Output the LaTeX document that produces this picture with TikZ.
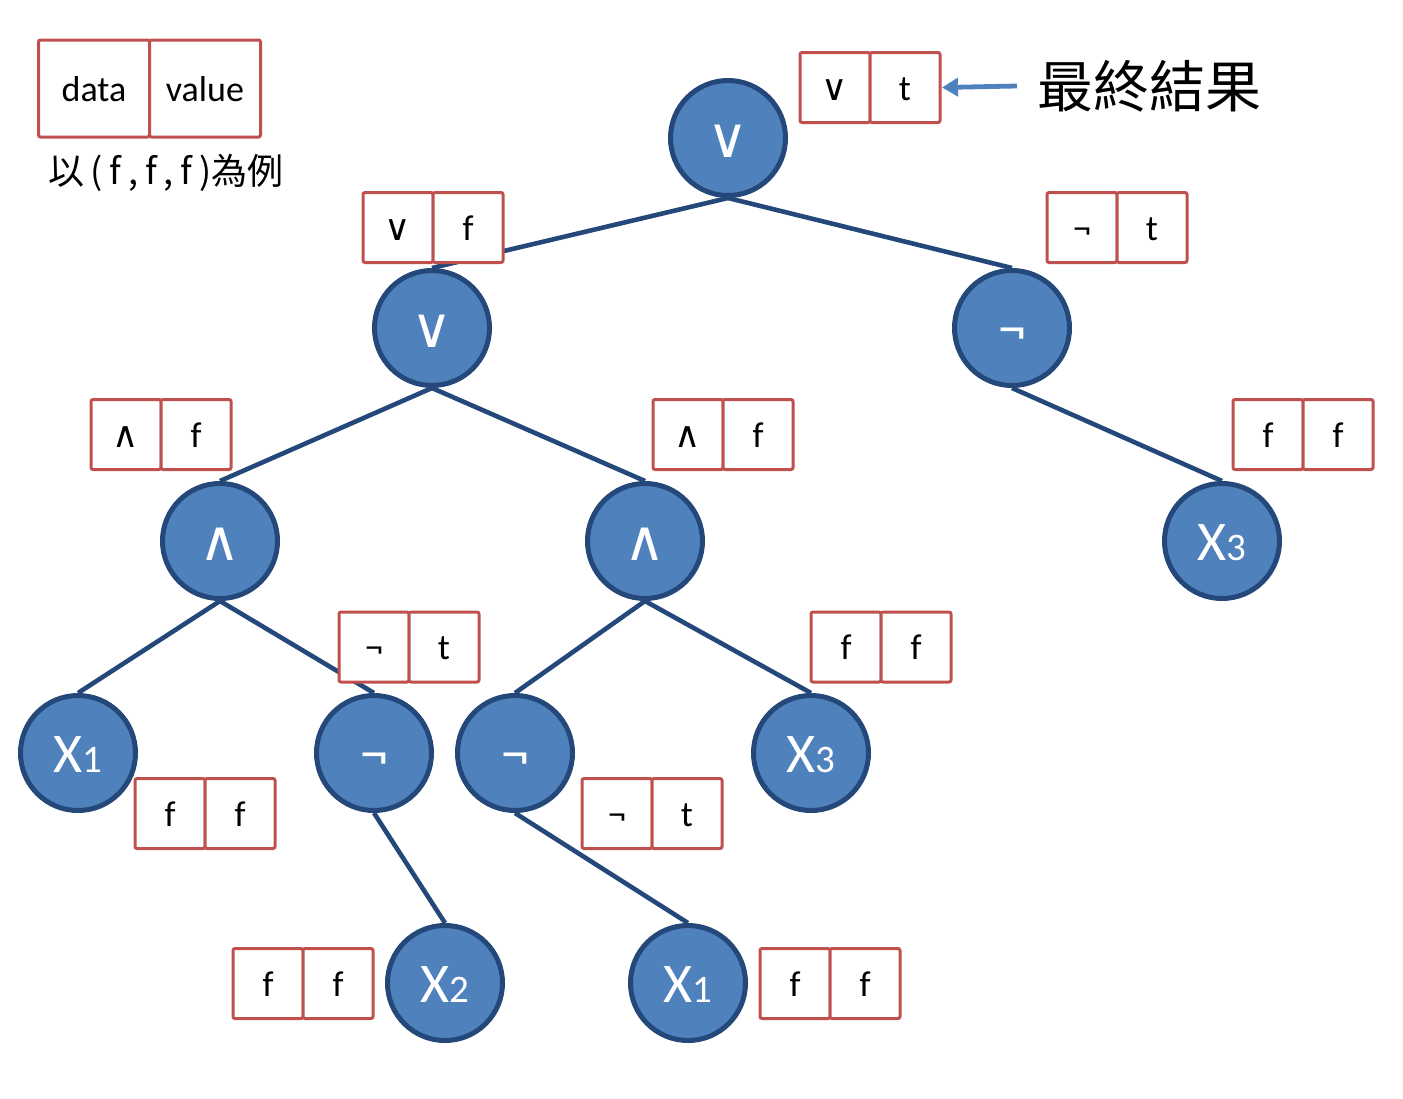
\documentclass[tikz,border=0pt]{standalone}
\usepackage{fontspec}
\setmainfont{Carlito}
\newfontfamily\symf{DejaVu Sans}
\newfontfamily\cjk{Noto Sans CJK TC}
\usepackage{xcolor}
\usetikzlibrary{arrows.meta,positioning,backgrounds}
\definecolor{opfill}{RGB}{79,129,189}
\definecolor{opline}{RGB}{37,72,122}
\definecolor{cellred}{RGB}{192,80,77}
\newcommand{\opor}{{\symf ∨}}
\newcommand{\opand}{{\symf ∧}}
\newcommand{\xvar}[1]{X{\fontsize{19.5}{20}\selectfont #1}}

\begin{document}
\begin{tikzpicture}[
  x=0.5pt, y=-0.5pt,
  op/.style={circle, draw=opline, line width=2.5pt, fill=opfill, minimum size=57.5pt,
    inner sep=0pt, text=white, font=\fontsize{28}{30}\selectfont,
    text height=19pt, text depth=0pt},
  cell/.style={draw=cellred, line width=1.5pt, fill=white, rounded corners=1pt,
    minimum width=35pt, minimum height=35pt, inner sep=0pt, outer sep=0pt,
    font=\fontsize{18}{20}\selectfont, text height=12.5pt, text depth=0pt},
  link/.style={draw=opline, line width=2.3pt},
  flow/.style={-{Triangle[length=8pt,width=9pt]}, draw=opfill, fill=opfill, line width=2.4pt}
]
\useasboundingbox (0,0) rectangle (1403,1098);
% legend
\node[cell, minimum width=55.5pt, minimum height=48.5pt] (keyd) at (94,88.5) {data};
\node[cell, minimum width=55.5pt, minimum height=48.5pt, right=0pt of keyd] (keyv) {value};
\node[anchor=west, inner sep=0pt, font=\cjk\fontsize{18}{20}\selectfont] (note) at (48,173)
  {以\hspace{3pt}(\hspace{3.5pt}f\hspace{3.5pt},\hspace{3.5pt}f\hspace{3.5pt},\hspace{3.5pt}f\hspace{3.5pt})為例};
% tree
\node[op] (root) at (728,138) {\opor};
\node[op] (a) at (432,328) {\opor};
\node[op] (b) at (1012,328) {¬};
\node[op] (aa) at (220,541) {\opand};
\node[op] (ab) at (645,541) {\opand};
\node[op] (ba) at (1222,541) {\xvar{3}};
\node[op] (aaa) at (78,753) {\xvar{1}};
\node[op] (aab) at (374,753) {¬};
\node[op] (aba) at (515,753) {¬};
\node[op] (abb) at (811,753) {\xvar{3}};
\node[op] (aaba) at (445,983) {\xvar{2}};
\node[op] (abaa) at (688,983) {\xvar{1}};
% data / value pairs
\node[cell] (rootd) at (835,87.5) {\opor}; \node[cell, right=0pt of rootd] (rootv) {t};
\node[cell] (ad) at (398,227.5) {\opor}; \node[cell, right=0pt of ad] (av) {f};
\node[cell] (bd) at (1082,227.5) {¬}; \node[cell, right=0pt of bd] (bv) {t};
\node[cell] (aad) at (126,434.5) {\opand}; \node[cell, right=0pt of aad] (aav) {f};
\node[cell] (abd) at (688,434.5) {\opand}; \node[cell, right=0pt of abd] (abv) {f};
\node[cell] (bad) at (1268,434.5) {f}; \node[cell, right=0pt of bad] (bav) {f};
\node[cell] (aabd) at (374,647) {¬}; \node[cell, right=0pt of aabd] (aabv) {t};
\node[cell] (abbd) at (846,647) {f}; \node[cell, right=0pt of abbd] (abbv) {f};
\node[cell] (aaad) at (170,813.5) {f}; \node[cell, right=0pt of aaad] (aaav) {f};
\node[cell] (abad) at (617,813.5) {¬}; \node[cell, right=0pt of abad] (abav) {t};
\node[cell] (aabad) at (268,983.5) {f}; \node[cell, right=0pt of aabad] (aabav) {f};
\node[cell] (abaad) at (795,983.5) {f}; \node[cell, right=0pt of abaad] (abaav) {f};
% result
\node[anchor=west, inner sep=0pt, font=\cjk\fontsize{28}{30}\selectfont] (final) at (1037,86) {最終結果};
\draw[flow] ([xshift=-10pt]final.west) -- ([xshift=1pt]rootv.east);
\begin{scope}[on background layer]
\draw[link] (root.south) -- (a.north);
\draw[link] (root.south) -- (b.north);
\draw[link] (a.south) -- (aa.north);
\draw[link] (a.south) -- (ab.north);
\draw[link] (b.south) -- (ba.north);
\draw[link] (aa.south) -- (aaa.north);
\draw[link] (aa.south) -- (aab.north);
\draw[link] (ab.south) -- (aba.north);
\draw[link] (ab.south) -- (abb.north);
\draw[link] (aab.south) -- (aaba.north);
\draw[link] (aba.south) -- (abaa.north);
\end{scope}
\end{tikzpicture}
\end{document}
